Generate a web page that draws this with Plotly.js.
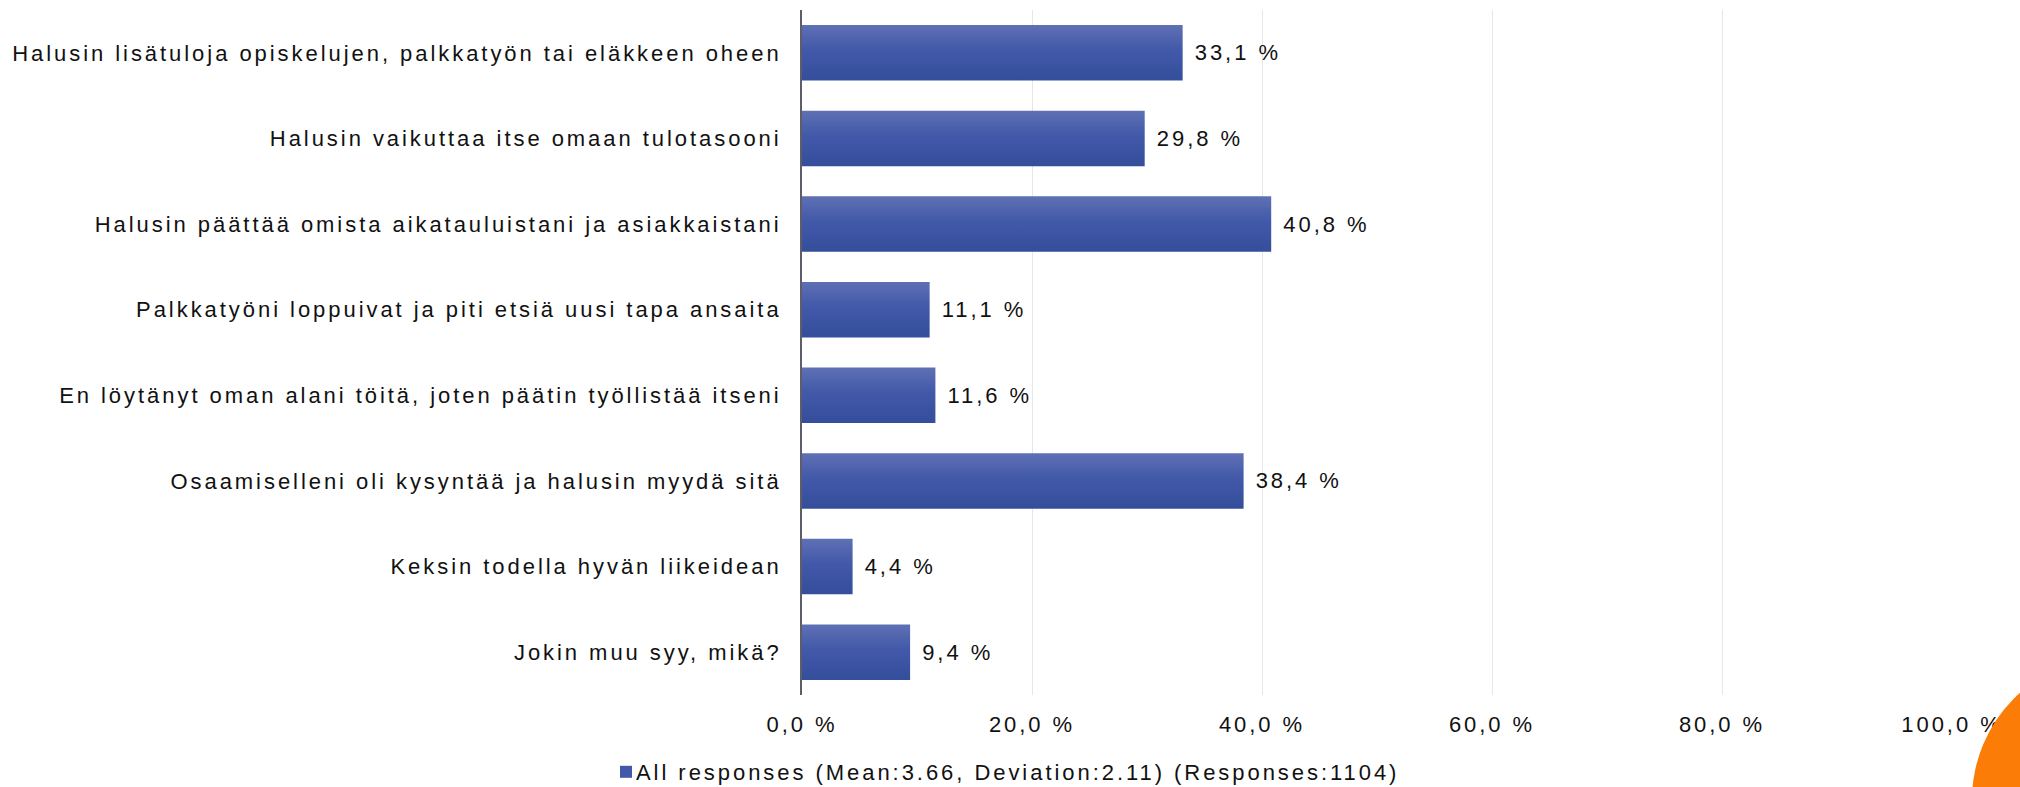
<!DOCTYPE html>
<html>
<head>
<meta charset="utf-8">
<script src="https://cdn.plot.ly/plotly-3.0.1.min.js"></script>
<style>
  html, body { margin: 0; padding: 0; background: #ffffff; }
  #chart { width: 2020px; height: 787px; }
  text { letter-spacing: 2.95px; }
  .bars .point path { fill: url(#barGrad) !important; }
  .legend .legendpoints { transform: translate(10px, 0px); }
</style>
</head>
<body>
<svg width="0" height="0" style="position:absolute">
  <defs>
    <linearGradient id="barGrad" x1="0" y1="0" x2="0" y2="1">
      <stop offset="0%" stop-color="#5f70b4"/>
      <stop offset="45%" stop-color="#4259a9"/>
      <stop offset="100%" stop-color="#344e9b"/>
    </linearGradient>
  </defs>
</svg>
<div id="chart"></div>
<script>
const categories = [
  "Halusin lisätuloja opiskelujen, palkkatyön tai eläkkeen oheen",
  "Halusin vaikuttaa itse omaan tulotasooni",
  "Halusin päättää omista aikatauluistani ja asiakkaistani",
  "Palkkatyöni loppuivat ja piti etsiä uusi tapa ansaita",
  "En löytänyt oman alani töitä, joten päätin työllistää itseni",
  "Osaamiselleni oli kysyntää ja halusin myydä sitä",
  "Keksin todella hyvän liikeidean",
  "Jokin muu syy, mikä?"
];
const values = [33.1, 29.8, 40.8, 11.1, 11.6, 38.4, 4.4, 9.4];
const seriesName = "All responses (Mean:3.66, Deviation:2.11) (Responses:1104)";
const xTickValues = [0, 20, 40, 60, 80, 100];
const xTickLabels = ["0,0 %", "20,0 %", "40,0 %", "60,0 %", "80,0 %", "100,0 %"];

const W = 2020, H = 787;
const M = { l: 802, r: 68, t: 10, b: 92, autoexpand: false };
const plotW = W - M.l - M.r, plotH = H - M.t - M.b;
const px2x = p => (p - M.l) / plotW;
const py2y = p => (H - M.b - p) / plotH;

const FONT = '"Liberation Sans", Arial, sans-serif';
const TXT = '#111111';

const trace = {
  type: 'bar',
  orientation: 'h',
  name: seriesName,
  y: categories,
  x: values,
  marker: { color: '#4259a9', line: { width: 0 } },
  texttemplate: '\u00a0%{x:.1f} %',
  textposition: 'outside',
  cliponaxis: false,
  textfont: { family: FONT, size: 22, color: TXT },
  hoverinfo: 'skip',
  showlegend: true
};

const layout = {
  width: W, height: H,
  margin: M,
  paper_bgcolor: '#ffffff',
  plot_bgcolor: '#ffffff',
  separators: ', ',
  font: { family: FONT, size: 22, color: TXT },
  bargap: 0.353,
  showlegend: true,
  legend: {
    orientation: 'h',
    x: px2x(596), xanchor: 'left',
    y: py2y(772), yanchor: 'middle',
    font: { family: FONT, size: 22, color: TXT },
    bgcolor: 'rgba(0,0,0,0)',
    borderwidth: 0
  },
  xaxis: {
    range: [0, 100],
    tickmode: 'array',
    tickvals: xTickValues,
    ticktext: xTickLabels,
    showgrid: true,
    gridcolor: '#e4e6ea',
    gridwidth: 1,
    zeroline: false,
    showline: false,
    ticks: '',
    ticklabelstandoff: 14,
    tickfont: { family: FONT, size: 22, color: TXT },
    fixedrange: true
  },
  yaxis: {
    autorange: 'reversed',
    showgrid: false,
    zeroline: false,
    showline: true,
    linecolor: '#5e5e6a',
    linewidth: 2,
    ticks: '',
    ticklabelstandoff: 14,
    tickfont: { family: FONT, size: 22, color: TXT },
    fixedrange: true
  },
  shapes: [{
    type: 'circle',
    xref: 'paper', yref: 'paper',
    x0: px2x(1972), x1: px2x(2260),
    y0: py2y(944), y1: py2y(656),
    fillcolor: '#fb7d08',
    line: { width: 0 },
    layer: 'above'
  }]
};

Plotly.newPlot('chart', [trace], layout, { displayModeBar: false, staticPlot: true });
</script>
</body>
</html>
